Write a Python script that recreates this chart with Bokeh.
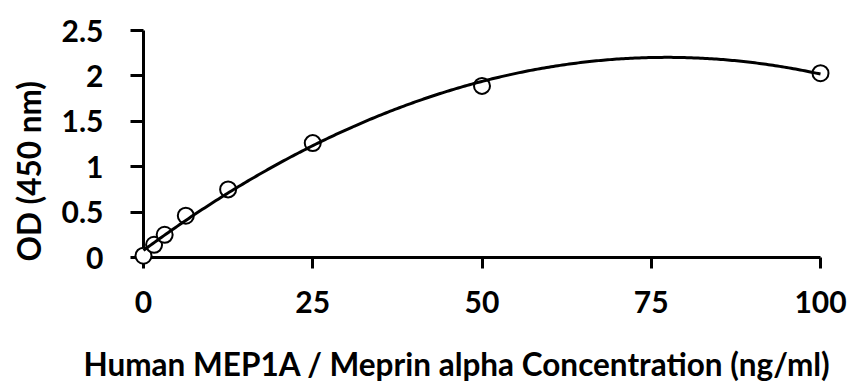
import numpy as np
from bokeh.plotting import figure
from bokeh.models import Range1d, Title, FixedTicker
from bokeh.embed import file_html
from bokeh.resources import INLINE

conc = [0, 1.5625, 3.125, 6.25, 12.5, 25, 50, 100]
od = [0.02, 0.14, 0.25, 0.46, 0.75, 1.26, 1.89, 2.03]
x_ticks = [0, 25, 50, 75, 100]
y_ticks = [0, 0.5, 1, 1.5, 2, 2.5]
y_tick_labels = {0: "0", 0.5: "0.5", 1: "1", 1.5: "1.5", 2: "2", 2.5: "2.5"}
x_title = "Human MEP1A / Meprin alpha Concentration (ng/ml)"
y_title = "OD (450 nm)"

coef = np.polyfit(conc, od, 2)
xf = np.linspace(0, 100, 300)
yf = np.polyval(coef, xf)

FONT = "Lato"
TICK_FS = "30px"
TITLE_FS = "31.5px"

p = figure(width=849, height=388,
           x_range=Range1d(0, 100), y_range=Range1d(0, 2.5),
           output_backend="svg", toolbar_location=None,
           min_border_left=143, min_border_right=29,
           min_border_top=30, min_border_bottom=131)
p.grid.visible = False
p.outline_line_color = None
p.background_fill_color = "white"
p.border_fill_color = "white"

for ax, ticks, tout in ((p.xaxis[0], x_ticks, 11), (p.yaxis[0], y_ticks, 13)):
    ax.ticker = FixedTicker(ticks=ticks)
    ax.minor_tick_line_color = None
    ax.major_tick_in = 0
    ax.major_tick_out = tout
    ax.axis_line_width = 3
    ax.major_tick_line_width = 3
    ax.axis_line_color = "black"
    ax.major_tick_line_color = "black"
    ax.major_label_text_font = FONT
    ax.major_label_text_font_style = "bold"
    ax.major_label_text_font_size = TICK_FS
    ax.major_label_text_color = "black"

p.xaxis[0].major_label_standoff = 22
p.yaxis[0].major_label_standoff = 27
p.yaxis[0].major_label_overrides = y_tick_labels

# blank spacer between the tick labels and the x title
spacer = Title(text=" ", text_font_size="2px", text_color="white",
               vertical_align="top", standoff=25)
p.add_layout(spacer, "below")
tx = Title(text=x_title, align="left", offset=-60, text_font=FONT,
           text_font_style="bold", text_font_size=TITLE_FS,
           text_color="black", vertical_align="top", standoff=0)
p.add_layout(tx, "below")
ty = Title(text=y_title, align="left", offset=-4, text_font=FONT,
           text_font_style="bold", text_font_size=TITLE_FS,
           text_color="black", vertical_align="top", standoff=18)
p.add_layout(ty, "left")

p.scatter(conc, od, marker="circle", size=16, fill_color="white",
          line_color="black", line_width=2, level="overlay")
p.line(xf, yf, line_color="black", line_width=3, level="overlay")

open("out.html", "w").write(file_html(p, INLINE))
